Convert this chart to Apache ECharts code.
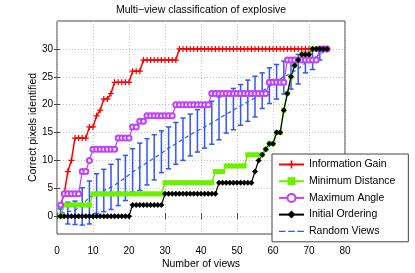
<!DOCTYPE html>
<html>
<head>
<meta charset="utf-8">
<script src="https://cdn.jsdelivr.net/npm/echarts@6/dist/echarts.min.js"></script>
<style>html,body{margin:0;padding:0;background:#fff}#c{width:415px;height:273px}</style>
</head>
<body>
<div id="c"></div>
<script>
// ---- data (x = number of views) ----
var views = [];
for (var i = 1; i <= 75; i++) views.push(i);

var infoGain = [2,4,8,10,14,14,14,14,16,16,18,19,21,21,22,24,24,24,24,24,26,26,26,
  28,28,28,28,28,28,28,28,28,28,
  30,30,30,30,30,30,30,30,30,30,30,30,30,30,30,30,30,30,30,30,30,30,30,30,30,30,30,30,30,30,30,30,30,30,30,30,30,30,30,30,30,30];

var minDistance = [0,2,2,2,2,2,2,2,2,
  4,4,4,4,4,4,4,4,4,4,4,4,4,4,4,4,4,4,4,4,
  6,6,6,6,6,6,6,6,6,6,6,6,6,6,
  8,8,8,9,9,9,9,9,9,11,11,11,11,
  11,12,13,13,15,15,19,22,25,27,28,29,29,29,30,30,30,30,30];

var maxAngle = [2,4,4,4,4,4,8,8,10,12,12,12,12,12,12,12,14,14,14,14,16,16,17,17,
  18,18,18,18,18,18,18,18,
  20,20,20,20,20,20,20,20,20,20,
  22,22,22,22,22,22,22,22,22,22,22,22,22,22,22,22,
  24,24,24,24,24,
  28,28,28,28,28,28,28,28,28,
  30,30,30];

var initialOrdering = [0,0,0,0,0,0,0,0,0,0,0,0,0,0,0,0,0,0,0,0,
  2,2,2,2,2,2,2,2,2,
  4,4,4,4,4,4,4,4,4,4,4,4,4,4,4,
  6,6,6,6,6,6,6,6,6,6,
  8,10,11,12,13,13,15,15,19,22,25,27,28,29,29,29,30,30,30,30,30];

var randomX    = [1,3,5,7,9,11,13,15,17,19,21,23,25,27,29,31,33,35,37,39,41,43,45,47,49,51,53,55,57,59,61,63,65,67,69,71,73,75];
var randomMean = [0.5,0.8,1.0,2.0,3.4,4.1,4.6,5.2,6.0,6.9,7.9,8.8,9.6,10.4,11.3,12.2,13.0,13.8,14.6,15.3,16.0,16.7,17.5,18.3,19.0,19.8,20.5,21.2,22.4,23.3,24.2,25.0,25.6,26.4,27.5,28.2,29.0,29.9];
var randomLow  = [-0.2,-1.4,-1.5,-1.6,-1.4,0.5,0.8,1.2,1.9,2.8,4.3,4.6,5.6,6.5,7.8,8.5,9.3,10.0,10.8,11.5,12.2,12.9,13.7,14.9,15.5,16.3,17.0,17.8,19.3,20.2,21.0,21.9,22.8,23.7,25.7,26.3,28.0,29.6];
var randomHigh = [1.3,2.5,2.7,5.1,6.3,7.6,8.4,9.3,10.2,10.9,12.1,13.1,13.9,14.6,15.3,16.0,16.8,17.6,18.3,19.1,19.9,20.6,21.4,22.1,22.9,23.6,24.4,25.1,25.7,26.6,27.2,27.8,28.4,29.0,29.4,29.9,30.2,30.3];

var yTicks = [0,5,10,15,20,25,30];
var xTicks = [0,10,20,30,40,50,60,70,80];

// ---- styles ----
var FONT = 'Liberation Sans';
var RED = '#ff0000', GREEN = '#6cf000', MAG = '#bf40ff', BLK = '#000000', BLUE = '#3355ff';
var AX = '#444444';
var PLUS = 'path://M4,0h2v4h4v2h-4v4h-2v-4h-4v-2h4z';
var DASH = 'path://M0,0h0.01v0.01h-0.01z M0,4.4h6.5v1.3h-6.5z M9.2,4.4h6.5v1.3h-6.5z M18.4,4.4h6.5v1.3h-6.5z M24.99,9.99h0.01v0.01h-0.01z';

function pairs(xs, ys) { return xs.map(function (x, i) { return [x, ys[i]]; }); }

var chart = echarts.init(document.getElementById('c'), null, {renderer: 'canvas'});
chart.setOption({
  animation: false,
  backgroundColor: '#ffffff',
  title: {
    text: 'Multi\u2212view classification of explosive',
    left: 201, top: 5, padding: 0, textAlign: 'center',
    textStyle: {fontFamily: FONT, fontSize: 10.5, fontWeight: 'normal', color: '#000'}
  },
  grid: {left: 57, right: 70, top: 21, bottom: 39, outerBoundsMode: 'none', containLabel: false,
    show: true, borderColor: AX, borderWidth: 1, backgroundColor: '#fff'},
  legend: {
    orient: 'vertical', left: 272, top: 154,
    padding: [5, 13, 5, 6], itemGap: 5.7, itemWidth: 25, itemHeight: 10,
    backgroundColor: '#fff', borderColor: AX, borderWidth: 1,
    selectedMode: false,
    textStyle: {fontFamily: FONT, fontSize: 10.5, color: '#000'},
    data: [
      {name: 'Information Gain'},
      {name: 'Minimum Distance'},
      {name: 'Maximum Angle'},
      {name: 'Initial Ordering'},
      {name: 'Random Views', icon: DASH}
    ]
  },
  xAxis: [{
    type: 'value', min: 0, max: 80, interval: 10,
    name: 'Number of views', nameLocation: 'middle', nameGap: 25, nameMoveOverlap: false,
    nameTextStyle: {fontFamily: FONT, fontSize: 10.5, color: '#000'},
    axisLine: {show: false},
    axisTick: {show: true, inside: true, length: 3, lineStyle: {color: AX}},
    axisLabel: {fontFamily: FONT, fontSize: 10, color: '#000', margin: 12,
      formatter: function (v) { return xTicks.indexOf(v) >= 0 ? String(v) : ''; }},
    splitLine: {show: true, lineStyle: {color: '#c4c4c4', type: [1, 2], width: 1}}
  }, {
    type: 'value', min: 0, max: 80, interval: 10, position: 'top',
    axisLine: {show: false},
    axisTick: {show: true, inside: true, length: 3, lineStyle: {color: AX}},
    axisLabel: {show: false}, splitLine: {show: false}
  }],
  yAxis: [{
    type: 'value', min: -3.2, max: 35,
    name: 'Correct pixels identified', nameLocation: 'middle', nameGap: 18, nameRotate: 90, nameMoveOverlap: false,
    nameTextStyle: {fontFamily: FONT, fontSize: 10.5, color: '#000'},
    axisLine: {show: false},
    axisTick: {show: true, inside: true, length: 3, lineStyle: {color: AX}, customValues: yTicks},
    axisLabel: {fontFamily: FONT, fontSize: 10, color: '#000', margin: 4, customValues: yTicks},
    splitLine: {show: true, lineStyle: {color: '#c4c4c4', type: [1, 2], width: 1}}
  }, {
    type: 'value', min: -3.2, max: 35, position: 'right',
    axisLine: {show: false},
    axisTick: {show: true, inside: true, length: 3, lineStyle: {color: AX}, customValues: yTicks},
    axisLabel: {show: false, customValues: yTicks}, splitLine: {show: false}
  }],
  series: [
    {
      name: 'Information Gain', type: 'line', data: pairs(views, infoGain),
      symbol: PLUS, symbolSize: 6, showAllSymbol: true,
      lineStyle: {color: RED, width: 1.5}, itemStyle: {color: RED}
    },
    {
      name: 'Minimum Distance', type: 'line', data: pairs(views, minDistance),
      symbol: 'rect', symbolSize: 5, showAllSymbol: true,
      lineStyle: {color: GREEN, width: 1.5}, itemStyle: {color: GREEN}
    },
    {
      name: 'Maximum Angle', type: 'line', data: pairs(views, maxAngle),
      symbol: 'emptyCircle', symbolSize: 5, showAllSymbol: true,
      lineStyle: {color: MAG, width: 1.2}, itemStyle: {color: MAG, borderWidth: 1.2}
    },
    {
      name: 'Initial Ordering', type: 'line', data: pairs(views, initialOrdering),
      symbol: 'diamond', symbolSize: 6, showAllSymbol: true,
      lineStyle: {color: BLK, width: 1.2}, itemStyle: {color: BLK}
    },
    {
      name: 'Random Views', type: 'line', data: pairs(randomX, randomMean),
      symbol: 'none',
      lineStyle: {color: BLUE, width: 1.2, type: [4, 3]}, itemStyle: {color: BLUE}
    },
    {
      name: 'Random Views bars', type: 'custom',
      data: randomX.map(function (x, i) { return [x, randomLow[i], randomHigh[i]]; }),
      encode: {x: 0, y: [1, 2]},
      renderItem: function (params, api) {
        var x = api.value(0);
        var top = api.coord([x, api.value(2)]);
        var bot = api.coord([x, api.value(1)]);
        var w = 2.6;
        var st = {stroke: BLUE, lineWidth: 1.5};
        return {type: 'group', children: [
          {type: 'line', shape: {x1: top[0], y1: top[1], x2: bot[0], y2: bot[1]}, style: st},
          {type: 'line', shape: {x1: top[0] - w, y1: top[1], x2: top[0] + w, y2: top[1]}, style: st},
          {type: 'line', shape: {x1: bot[0] - w, y1: bot[1], x2: bot[0] + w, y2: bot[1]}, style: st}
        ]};
      }
    }
  ]
});
</script>
</body>
</html>
